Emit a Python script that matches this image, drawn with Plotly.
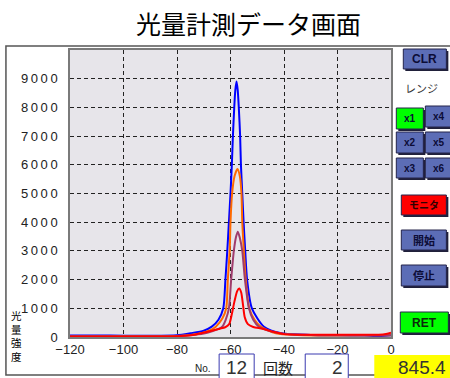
import plotly.graph_objects as go

# ---------------- data ----------------
blue_x = [-120, -110, -100, -90, -80, -75, -70, -67, -64.5, -62.7, -61.9, -61.2, -60.6, -60, -59.5, -59.1, -58.6, -58.2,
          -57.75, -57.3, -56.9, -56.4, -56.1, -55.6, -55.1, -54.5, -53.8, -52, -47.5, -41, -30, -20, -10, -5, 0]
blue_y = [50, 55, 45, 40, 60, 130, 220, 360, 600, 1000, 2000, 3000, 4000, 5000, 6000, 7000, 8000, 8600,
          8900, 8600, 8000, 7000, 6000, 5000, 4000, 3000, 2000, 1000, 360, 130, 70, 60, 50, 30, 60]

orange_x = [-120, -100, -80, -75, -71, -68, -65.5, -63, -61.6, -61, -60.3, -60, -59.4, -58.5, -57.4, -56.5,
            -55.9, -55.6, -55, -54.3, -53, -51, -48.7, -43, -35, -20, 0]
orange_y = [20, 25, 35, 70, 130, 220, 360, 650, 1000, 2000, 3000, 4000, 5000, 5600, 5850, 5600,
            5000, 4000, 3000, 2000, 1000, 600, 360, 130, 70, 50, 60]

mauve_x = [-120, -100, -80, -75, -70, -66.9, -64.5, -63.1, -61.8, -60.6, -59.75, -58.75, -57.9, -57.25, -56.5,
           -55.6, -54.6, -53.1, -51.5, -49.4, -45, -40, -30, 0]
mauve_y = [15, 20, 30, 60, 120, 200, 280, 360, 600, 1000, 2000, 3000, 3500, 3670, 3450,
           3000, 2000, 1000, 600, 360, 200, 110, 70, 60]

red_x = [-120, -100, -80, -74, -71, -67, -64, -62, -60.5, -59.5, -58.5, -57.5, -56.75, -56, -55.3, -54.7,
         -53.5, -51.5, -48, -44, -40, -35, -20, -10, -3, 0]
red_y = [15, 20, 30, 70, 130, 220, 290, 340, 450, 800, 1250, 1600, 1690, 1550, 1100, 700,
         450, 350, 290, 180, 100, 80, 80, 80, 90, 150]

x_ticks = [-120, -100, -80, -60, -40, -20, 0]
y_ticks = [0, 1000, 2000, 3000, 4000, 5000, 6000, 7000, 8000, 9000]
y_tick_text = ["0"] + ["\u2009".join(str(v)) for v in y_ticks[1:]]

title_text = "光量計測データ画面"
y_label_chars = ["光", "量", "強", "度"]
range_label = "レンジ"
range_buttons = ["x1", "x4", "x2", "x5", "x3", "x6"]
count_no = "12"
count_times = "2"
reading = "845.4"

# ---------------- figure ----------------
W, H = 450, 378
L, R, T, B = 70, 390.7, 50, 337


def px(x):
    return (x - L) / (R - L)


def py(y):
    return (B - y) / (B - T)


fig = go.Figure()
for xs, ys, col in [(blue_x, blue_y, "#0000ff"), (orange_x, orange_y, "#ff6a00"),
                    (mauve_x, mauve_y, "#a03c6c"), (red_x, red_y, "#ff0000")]:
    fig.add_trace(go.Scatter(x=xs, y=ys, mode="lines", line=dict(color=col, width=2, shape="spline", smoothing=0.7),
                             hoverinfo="skip", showlegend=False))

shapes = []
annos = []


def rect(x0, y0, x1, y1, fill="rgba(0,0,0,0)", line="#000", lw=1):
    shapes.append(dict(type="rect", xref="paper", yref="paper", x0=px(x0), x1=px(x1), y0=py(y1), y1=py(y0),
                       fillcolor=fill, line=dict(color=line, width=lw), layer="above"))


def text(x, y, t, size=12, color="#111", xanchor="center", family="Liberation Sans, Arial, sans-serif"):
    annos.append(dict(xref="paper", yref="paper", x=px(x), y=py(y), text=t, showarrow=False, xanchor=xanchor,
                      yanchor="middle", font=dict(size=size, color=color, family=family), borderpad=0))


def button(x0, y0, x1, y1, label, fill="#5c6db6", tcolor="#0c0c36", size=11):
    rect(x0 + 2, y0 + 2, x1 + 2, y1 + 2, fill="#20203a", line="#20203a", lw=0)
    rect(x0, y0, x1, y1, fill=fill, line="#24244a", lw=1)
    text((x0 + x1) / 2, (y0 + y1) / 2, "<b>" + label + "</b>", size=size, color=tcolor,
         family="Liberation Sans, Noto Sans CJK JP, sans-serif")


# outer frame
rect(6, 46, 470, 375, line="#555555", lw=1.5)

button(403, 49, 446, 69, "CLR", size=12)
text(421, 88, range_label, size=11, color="#333", family="Noto Sans CJK JP, sans-serif")
btn_pos = [(396, 108, 423, 129), (425, 106, 452, 127), (396, 132, 423, 153), (425, 132, 452, 153),
           (396, 158, 423, 178), (425, 158, 452, 178)]
for i, (lab, p) in enumerate(zip(range_buttons, btn_pos)):
    button(*p, lab, fill="#00ff00" if i == 0 else "#5c6db6", size=10)
button(401, 195, 446, 215, "モニタ", fill="#ff0000", tcolor="#300000", size=10)
button(401, 230, 446, 250, "開始", size=11)
button(401, 265, 446, 286, "停止", size=11)
button(400, 312, 448, 333, "RET", fill="#00ff00", tcolor="#0a2a0a", size=12)

# bottom row
text(203, 368, "No.", size=10, color="#222")
rect(219, 354, 254, 384, fill="#ffffff", line="#3a3ab0", lw=1)
text(236.5, 367, count_no, size=19, color="#333")
text(278, 367, "回数", size=15, color="#222", family="Noto Sans CJK JP, sans-serif")
rect(305, 354, 348, 384, fill="#ffffff", line="#3a3ab0", lw=1)
text(344, 367, count_times, size=19, color="#333", xanchor="right")
rect(374, 355, 455, 384, fill="#ffff00", line="#ffff00", lw=0)
text(447, 367, reading, size=19, color="#333", xanchor="right")

# title and y label
text(248, 23, title_text, size=25, color="#000", family="Noto Sans CJK JP, sans-serif")
text(17, 336, "<br>".join(y_label_chars), size=10.5, color="#000", family="Noto Sans CJK JP, sans-serif")

fig.update_layout(
    width=W, height=H, margin=dict(l=L, r=W - R, t=T, b=H - B, pad=0),
    paper_bgcolor="#ffffff", plot_bgcolor="#e7e5ea",
    shapes=shapes, annotations=annos, showlegend=False,
)
fig.update_xaxes(range=[-120, 0], tickvals=x_ticks, showgrid=True, gridcolor="#222222", griddash="4px,3px",
                 gridwidth=1, zeroline=False, showline=True, linecolor="#7a7a7a", linewidth=1.5, mirror=True,
                 ticks="", tickfont=dict(size=13, color="#222", family="Liberation Sans, Arial, sans-serif"))
fig.update_yaxes(range=[0, 10000], tickvals=y_ticks, ticktext=y_tick_text, showgrid=True, gridcolor="#222222",
                 griddash="4px,3px", gridwidth=1, zeroline=False, showline=True, linecolor="#7a7a7a",
                 linewidth=1.5, mirror=True, ticks="", ticklabelstandoff=8,
                 tickfont=dict(size=13, color="#222", family="Liberation Sans, Arial, sans-serif"))

fig.write_html("out.html", config={"displayModeBar": False},
               post_script="document.body.style.margin='0';document.body.style.padding='0';")
